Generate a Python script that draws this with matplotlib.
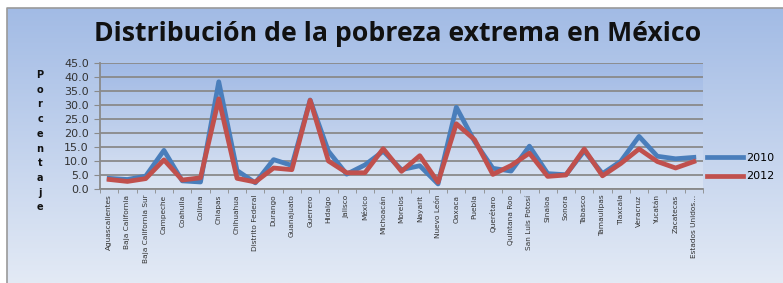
import matplotlib.pyplot as plt
import numpy as np
from matplotlib.colors import LinearSegmentedColormap

# estados y porcentaje de pobreza extrema
estados = ["Aguascalientes", "Baja California", "Baja California Sur", "Campeche",
           "Coahuila", "Colima", "Chiapas", "Chihuahua", "Distrito Federal",
           "Durango", "Guanajuato", "Guerrero", "Hidalgo", "Jalisco", "México",
           "Michoacán", "Morelos", "Nayarit", "Nuevo León", "Oaxaca", "Puebla",
           "Querétaro", "Quintana Roo", "San Luis Potosí", "Sinaloa", "Sonora",
           "Tabasco", "Tamaulipas", "Tlaxcala", "Veracruz", "Yucatán",
           "Zacatecas", "Estados Unidos..."]
pobreza_2010 = [3.8, 3.4, 4.6, 13.8, 2.9, 2.5, 38.3, 6.6, 2.2, 10.5, 8.4, 31.8,
                13.5, 5.3, 8.6, 13.5, 6.9, 8.3, 1.8, 29.2, 17.0, 7.4, 6.4, 15.3,
                5.5, 5.1, 13.6, 5.5, 9.9, 18.8, 11.7, 10.8, 11.3]
pobreza_2012 = [3.4, 2.7, 3.7, 10.4, 3.2, 4.0, 32.2, 3.8, 2.5, 7.5, 6.9, 31.7,
                10.0, 5.8, 5.8, 14.4, 6.3, 11.9, 2.4, 23.3, 17.6, 5.2, 8.4, 12.8,
                4.5, 5.0, 14.3, 4.7, 9.1, 14.3, 9.8, 7.5, 9.8]
yticks = np.arange(0, 50, 5)

W, H = 783, 283
fig = plt.figure(figsize=(W / 100, H / 100), dpi=100, facecolor="white")

# fondo con degradado (coordenadas en pixeles)
bg = fig.add_axes([0, 0, 1, 1], zorder=0)
bg.set_xlim(0, W)
bg.set_ylim(H, 0)
bg.axis("off")
cmap_bg = LinearSegmentedColormap.from_list("bg", ["#a2bbe5", "#e3eaf5"])
grad = np.linspace(0, 1, 256).reshape(-1, 1)
bg.imshow(grad, cmap=cmap_bg, extent=[7, W, H, 8], aspect="auto")
bg.plot([7, 7, W], [H, 8, 8], color="#9a9a9a", lw=1.2)

cmap_pa = LinearSegmentedColormap.from_list("pa", ["#a0b9e5", "#dce5f3"])
bg.imshow(grad, cmap=cmap_pa, extent=[100, 703, 189, 63], aspect="auto")

# grafica principal
ax = fig.add_axes([100 / W, 1 - 189 / H, 603 / W, 126 / H], zorder=1)
ax.patch.set_alpha(0)
x = np.arange(len(estados))
ax.plot(x, pobreza_2010, color="#4a7ebb", lw=3.4, label="2010", solid_joinstyle="round")
ax.plot(x, pobreza_2012, color="#c0504d", lw=3.4, label="2012", solid_joinstyle="round")

ax.set_xlim(-0.5, len(estados) - 0.5)
ax.set_ylim(0, 45)
ax.set_yticks(yticks)
ax.set_yticklabels(["{:.1f}".format(v) for v in yticks], fontsize=8, color="#333333")
ax.yaxis.grid(True, color="#8a8a8a", lw=1.3)
ax.set_axisbelow(True)

ax.set_xticks(x)
ax.set_xticklabels(estados, rotation=90, fontsize=5.3, color="#333333",
                   family=["Liberation Sans Narrow", "DejaVu Sans"])
ax.set_xticks(np.arange(-0.5, len(estados)), minor=True)
ax.tick_params(axis="x", which="major", length=0, pad=4)
ax.tick_params(axis="x", which="minor", length=3, color="#8a8a8a", direction="out")
ax.tick_params(axis="y", length=4, color="#8a8a8a", pad=4)

for side in ["top", "right"]:
    ax.spines[side].set_visible(False)
for side in ["left", "bottom"]:
    ax.spines[side].set_color("#8a8a8a")
    ax.spines[side].set_linewidth(1.3)

# leyenda
ax.legend(loc="center left", bbox_to_anchor=(1.003, 0.175), frameon=False,
          fontsize=8, handlelength=3.2, labelspacing=0.8, handletextpad=0.3,
          borderaxespad=0.0, borderpad=0.2)

# titulo y etiqueta vertical
fig.text(398 / W, 1 - 34 / H, "Distribución de la pobreza extrema en México",
         ha="center", va="center", fontsize=19.2, fontweight="bold",
         family=["Open Sans", "DejaVu Sans"], color="#111111")
for i, letra in enumerate("Porcentaje"):
    fig.text(40 / W, 1 - (75 + 14.7 * i) / H, letra, ha="center", va="center",
             fontsize=7, fontweight="bold", color="#111111")

fig.savefig("out.png", dpi=100, facecolor="white")
